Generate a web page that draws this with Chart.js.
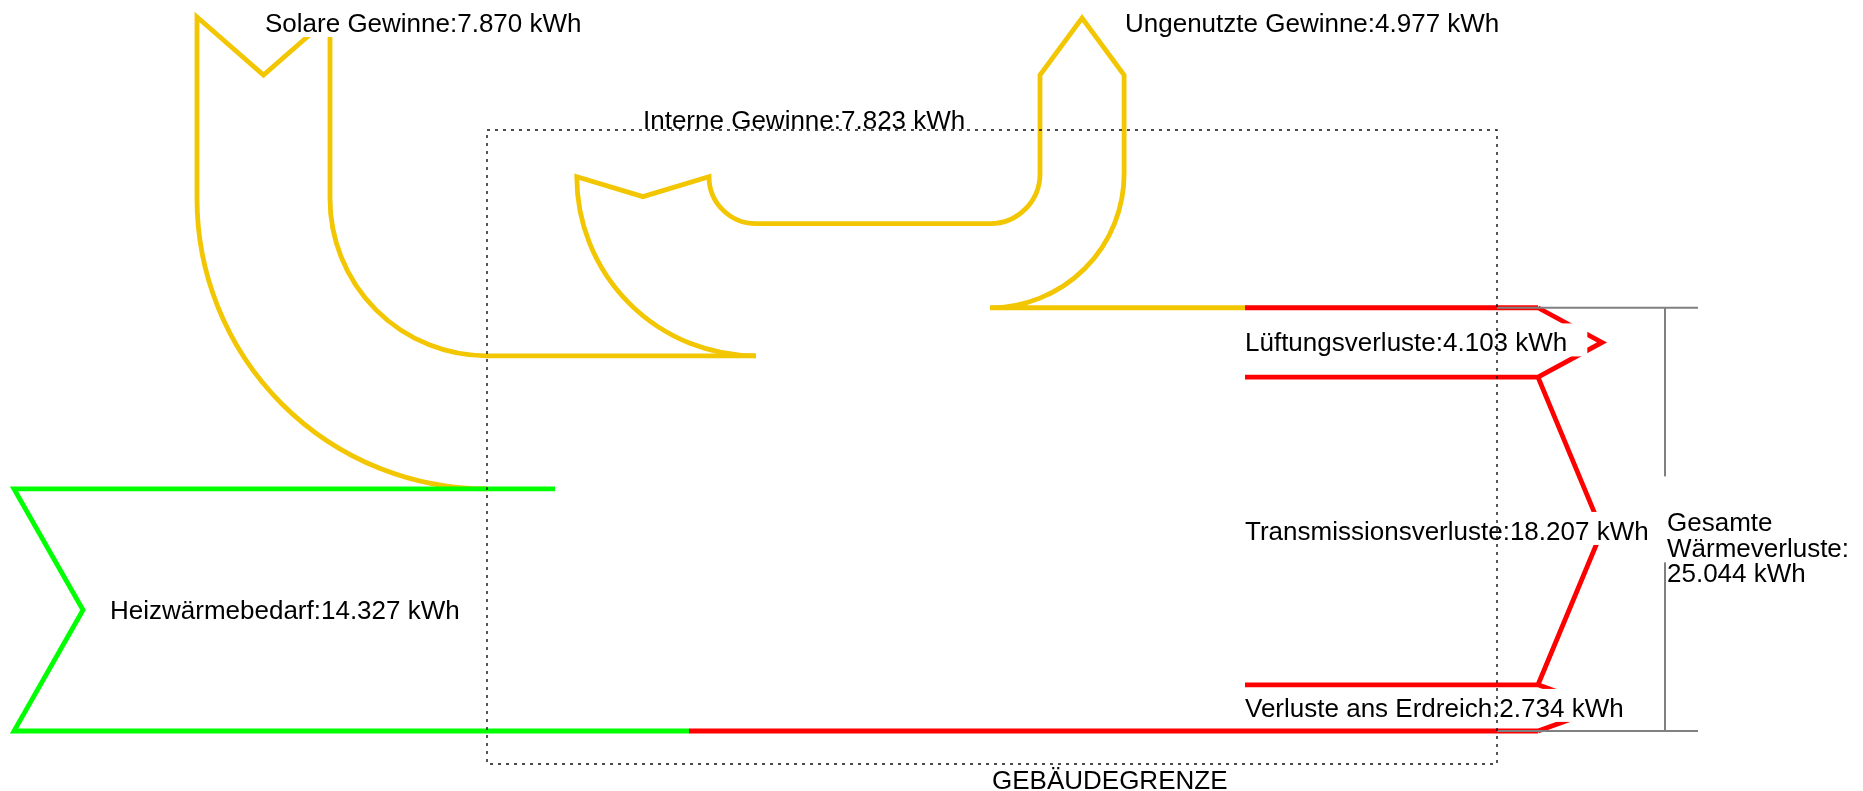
<!DOCTYPE html>
<html><head><meta charset="utf-8">
<script src="https://cdn.jsdelivr.net/npm/chart.js@4.4.1/dist/chart.umd.min.js"></script>
<style>html,body{margin:0;padding:0;background:#fff;overflow:hidden}canvas{display:block}</style>
</head><body>
<canvas id="c" width="1863" height="791"></canvas>
<script>
// ---- data (kWh) ----
const inputLabels = ['Heizwärmebedarf', 'Solare Gewinne', 'Interne Gewinne'];
const inputValues = [14.327, 7.870, 7.823];
const lossLabels = ['Verluste ans Erdreich', 'Transmissionsverluste', 'Lüftungsverluste']; // bottom -> top
const lossValues = [2.734, 18.207, 4.103];
const unusedLabel = 'Ungenutzte Gewinne';
const unusedValue = 4.977;
const totalLossLines = ['Gesamte', 'Wärmeverluste:'];
const totalLossValue = 25.044;
const boundaryLabel = 'GEBÄUDEGRENZE';

// ---- layout (pixels) ----
const L = {
  pxPerKWh: 16.9, baseY: 731, W: 1863, H: 791,
  lw: 4.8,
  colors: {heat: '#00FF00', gain: '#F2C600', loss: '#FF0000', bracket: '#808080', text: '#000'},
  font: '26px "Liberation Sans", Arial, sans-serif',
  boundary: {x0: 487, x1: 1497, y0: 130, y1: 764},
  heat: {x0: 14, notch: 69, topEnd: 555, colorSwitch: 689},
  solar: {xOuter: 197, top: 17, notch: 58, cx: 487},
  internal: {cx: 756, r: 47, notch: 20},
  unused: {cx: 990, r: 50, top: 75, head: 57},
  loss: {x0: 1245, x1: 1538, tip: 1602},
  bracket: {x0: 1497, x1: 1698, xv: 1665, gapHalf: 43},
  lbl: {
    solar: {x: 265, y: 32}, unused: {x: 1125, y: 32}, internal: {x: 643, y: 129},
    heat: {x: 110, dy: 9}, loss: {x: 1245, dy: 9},
    total: {x: 1667, dys: [12, 37.5, 63]}, boundary: {x: 992, y: 789},
    padX: 20, boxUp: 28, boxDown: 5
  }
};
const fmt = v => v.toFixed(3) + ' kWh';

const sankeyPlugin = {
  id: 'sankey',
  afterDraw(chart) {
    const ctx = chart.ctx, xs = chart.scales.x, ys = chart.scales.y;
    const X = v => xs.getPixelForValue(v);
    const Y = v => ys.getPixelForValue(v);
    const T = v => Y(0) - Y(v); // thickness in px of a flow value
    const [heat, solar, internal] = inputValues;
    const cumIn1 = heat, cumIn2 = heat + solar, cumIn3 = heat + solar + internal;
    const lossCum = [0]; lossValues.forEach((v, i) => lossCum.push(lossCum[i] + v));
    const lossTop = lossCum[lossCum.length - 1];

    ctx.save();
    ctx.lineWidth = L.lw; ctx.lineJoin = 'miter'; ctx.lineCap = 'butt';

    // --- gains: solar ---
    const s = L.solar, ws = T(solar);
    const xsInner = X(s.xOuter) + ws;
    const cxS = X(s.cx);
    const riS = cxS - xsInner, roS = riS + ws;
    const cyS = Y(cumIn2) - riS;
    const ic = L.internal;
    const cxI = X(ic.cx), wi = T(internal);
    ctx.strokeStyle = L.colors.gain;
    ctx.beginPath();
    ctx.moveTo(cxI, Y(cumIn2));
    ctx.lineTo(cxS, Y(cumIn2));
    ctx.arc(cxS, cyS, riS, Math.PI / 2, Math.PI, false);
    ctx.lineTo(xsInner, s.top);
    ctx.lineTo(X(s.xOuter) + ws / 2, s.top + s.notch);
    ctx.lineTo(X(s.xOuter), s.top);
    ctx.lineTo(X(s.xOuter), cyS);
    ctx.arc(cxS, cyS, roS, Math.PI, Math.PI / 2, true);
    ctx.stroke();

    // --- gains: internal + unused ---
    const riI = ic.r, roI = riI + wi, cyI = Y(cumIn3) - riI;
    const u = L.unused, wu = T(unusedValue);
    const cxU = X(u.cx), riU = u.r, roU = riU + wu, cyU = Y(cumIn3) - riU;
    ctx.beginPath();
    ctx.moveTo(cxI, Y(cumIn2));
    ctx.arc(cxI, cyI, roI, Math.PI / 2, Math.PI, false);
    ctx.lineTo(cxI - roI + wi / 2, cyI + ic.notch);
    ctx.lineTo(cxI - riI, cyI);
    ctx.arc(cxI, cyI, riI, Math.PI, Math.PI / 2, true);
    ctx.lineTo(cxU, Y(cumIn3));
    ctx.arc(cxU, cyU, riU, Math.PI / 2, 0, true);
    ctx.lineTo(cxU + riU, u.top);
    ctx.lineTo(cxU + riU + wu / 2, u.top - u.head);
    ctx.lineTo(cxU + roU, u.top);
    ctx.lineTo(cxU + roU, cyU);
    ctx.arc(cxU, cyU, roU, 0, Math.PI / 2, false);
    ctx.lineTo(X(L.loss.x0), Y(lossTop));
    ctx.stroke();

    // --- heating demand ---
    const h = L.heat;
    ctx.strokeStyle = L.colors.heat;
    ctx.beginPath();
    ctx.moveTo(X(h.topEnd), Y(cumIn1));
    ctx.lineTo(X(h.x0), Y(cumIn1));
    ctx.lineTo(X(h.x0) + h.notch, Y(cumIn1 / 2));
    ctx.lineTo(X(h.x0), Y(0));
    ctx.lineTo(X(h.colorSwitch), Y(0));
    ctx.stroke();

    // --- losses ---
    const lo = L.loss;
    ctx.strokeStyle = L.colors.loss;
    ctx.beginPath();
    ctx.moveTo(X(h.colorSwitch), Y(0));
    ctx.lineTo(X(lo.x1), Y(0));
    for (let i = 0; i < lossValues.length; i++) {
      const a = lossCum[i], b = lossCum[i + 1];
      ctx.moveTo(X(lo.x1), Y(a));
      ctx.lineTo(X(lo.tip), Y((a + b) / 2));
      ctx.lineTo(X(lo.x1), Y(b));
    }
    for (let i = 1; i < lossCum.length; i++) {
      ctx.moveTo(X(lo.x0), Y(lossCum[i]));
      ctx.lineTo(X(lo.x1), Y(lossCum[i]));
    }
    ctx.stroke();

    // --- bracket for total losses ---
    const br = L.bracket;
    ctx.strokeStyle = L.colors.bracket; ctx.lineWidth = 2;
    ctx.beginPath();
    ctx.moveTo(X(br.x0), Y(lossTop)); ctx.lineTo(X(br.x1), Y(lossTop));
    ctx.moveTo(X(br.x0), Y(0)); ctx.lineTo(X(br.x1), Y(0));
    ctx.moveTo(X(br.xv), Y(lossTop)); ctx.lineTo(X(br.xv), Y(0));
    ctx.stroke();

    // --- labels ---
    ctx.font = L.font; ctx.textBaseline = 'alphabetic'; ctx.textAlign = 'left';
    const lb = L.lbl;
    const label = (text, x, y) => {
      const wT = ctx.measureText(text).width;
      ctx.fillStyle = '#fff';
      ctx.fillRect(x - lb.padX, y - lb.boxUp, wT + 2 * lb.padX, lb.boxUp + lb.boxDown);
      ctx.fillStyle = L.colors.text;
      ctx.fillText(text, x, y);
    };
    label(inputLabels[1] + ':' + fmt(solar), X(lb.solar.x), lb.solar.y);
    label(unusedLabel + ':' + fmt(unusedValue), X(lb.unused.x), lb.unused.y);
    label(inputLabels[2] + ':' + fmt(internal), X(lb.internal.x), lb.internal.y);
    label(inputLabels[0] + ':' + fmt(heat), X(lb.heat.x), Y(heat / 2) + lb.heat.dy);
    for (let i = 0; i < lossValues.length; i++) {
      label(lossLabels[i] + ':' + fmt(lossValues[i]), X(lb.loss.x), Y((lossCum[i] + lossCum[i + 1]) / 2) + lb.loss.dy);
    }
    const cTot = Y(totalLossValue / 2);
    ctx.fillStyle = '#fff';
    ctx.fillRect(X(br.xv) - 10, cTot - br.gapHalf, L.W - X(br.xv) + 10, 2 * br.gapHalf);
    ctx.fillStyle = L.colors.text;
    const totLines = [...totalLossLines, fmt(totalLossValue)];
    totLines.forEach((t, i) => ctx.fillText(t, X(lb.total.x), cTot + lb.total.dys[i]));

    // --- building boundary ---
    const bd = L.boundary;
    ctx.strokeStyle = '#111'; ctx.lineWidth = 1.4; ctx.setLineDash([3, 5]);
    ctx.strokeRect(X(bd.x0), bd.y0, X(bd.x1) - X(bd.x0), bd.y1 - bd.y0);
    ctx.setLineDash([]);
    ctx.fillStyle = L.colors.text;
    ctx.fillText(boundaryLabel, X(lb.boundary.x), lb.boundary.y);
    ctx.restore();
  }
};

new Chart(document.getElementById('c'), {
  type: 'scatter',
  data: {datasets: []},
  options: {
    responsive: false, animation: false, events: [],
    layout: {padding: 0},
    plugins: {legend: {display: false}, tooltip: {enabled: false}},
    scales: {
      x: {type: 'linear', display: false, min: 0, max: L.W},
      y: {type: 'linear', display: false,
          min: -(L.H - L.baseY) / L.pxPerKWh, max: L.baseY / L.pxPerKWh}
    }
  },
  plugins: [sankeyPlugin]
});
</script>
</body></html>
